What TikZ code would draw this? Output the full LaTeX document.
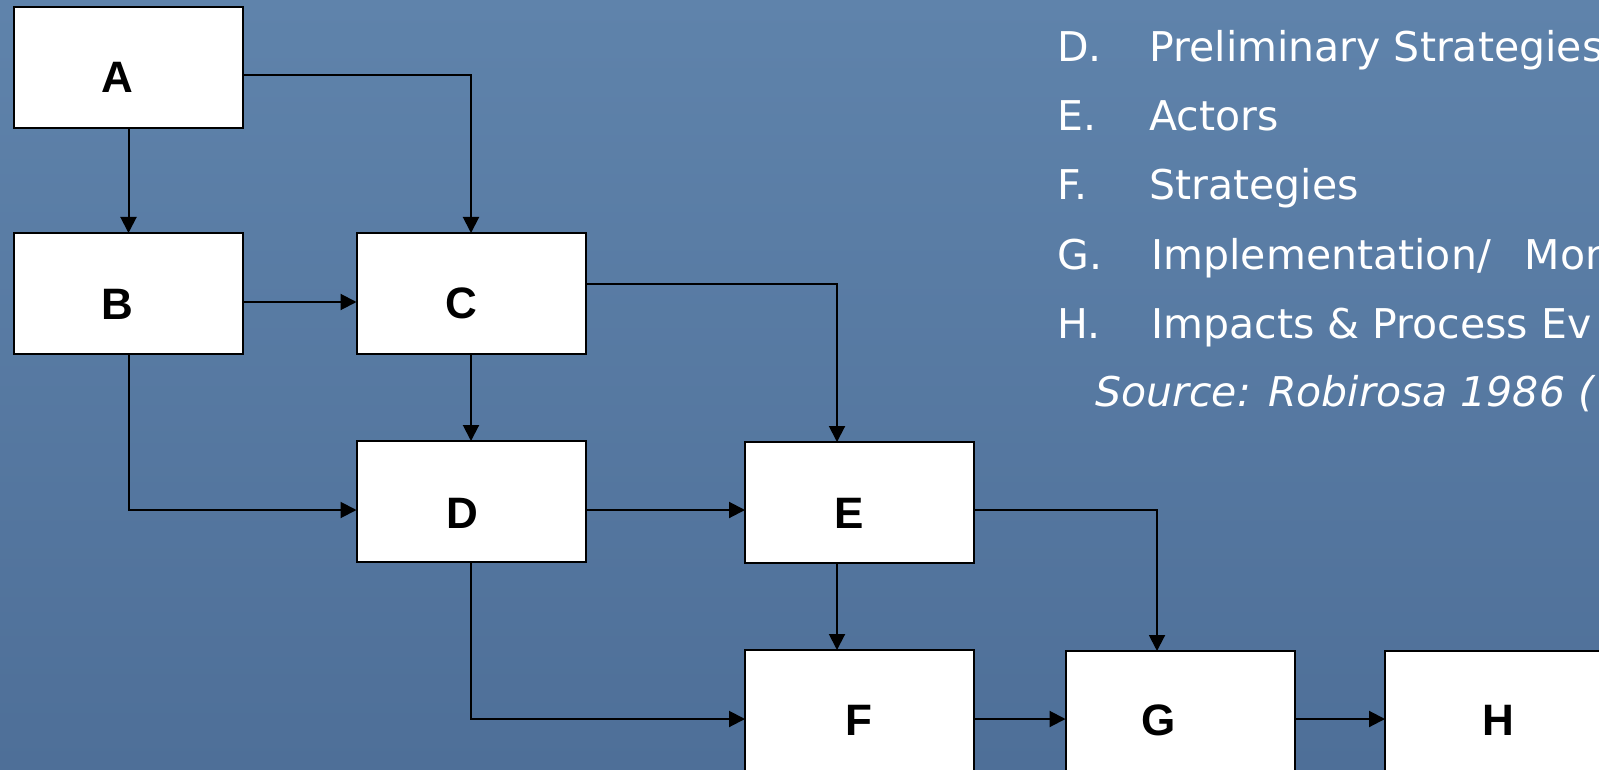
\documentclass[tikz,border=0pt]{standalone}
\usepackage{fontspec}
\setmainfont{DejaVu Sans}
\newfontfamily\boxfont{Liberation Sans}
\usetikzlibrary{arrows.meta}
\definecolor{bgtop}{HTML}{5F83AB}
\definecolor{bgbot}{HTML}{4E6F98}
\begin{document}
\begin{tikzpicture}[x=0.5pt,y=-0.5pt,
  box/.style={draw=black,fill=white,line width=1pt,minimum width=114.5pt,minimum height=60.5pt,inner sep=0pt,outer sep=0pt},
  lbl/.style={font=\boxfont\bfseries\fontsize{22}{22}\selectfont,text=black,inner sep=0pt},
  conn/.style={line width=1pt,-{Triangle[length=8pt,width=8pt]}},
  itemtxt/.style={anchor=base west,inner sep=0pt,text=white,font=\fontsize{20.5}{24}\selectfont},
  srctxt/.style={anchor=base west,inner sep=0pt,text=white,font=\itshape\fontsize{20.5}{24}\selectfont}
  ]
\useasboundingbox (0,0) rectangle (1599,770);
\clip (0,0) rectangle (1599,770);
\shade[top color=bgtop,bottom color=bgbot] (0,0) rectangle (1599,770);

% boxes
\node[box] (A) at (128.5,67.5) {};
\node[box] (B) at (128.5,293.5) {};
\node[box] (C) at (471,293.5) {};
\node[box] (D) at (471,501.5) {};
\node[box] (E) at (859.5,502.5) {};
\node[box] (F) at (859.5,710.5) {};
\node[box] (G) at (1180,711.5) {};
\node[box] (H) at (1499.5,711.5) {};

% box labels
\node[lbl] (tA) at (117,77) {A};
\node[lbl] (tB) at (117.5,304) {B};
\node[lbl] (tC) at (461,303) {C};
\node[lbl] (tD) at (462,513) {D};
\node[lbl] (tE) at (849,513) {E};
\node[lbl] (tF) at (859,720) {F};
\node[lbl] (tG) at (1159,720) {G};
\node[lbl] (tH) at (1498,720) {H};

% connectors
\draw[conn] (A.south) -- (B.north);
\draw[conn] ([yshift=-3.75pt]A.east) -| (C.north);
\draw[conn] ([yshift=-4.25pt]B.east) -- ([yshift=-4.25pt]C.west);
\draw[conn] (C.south) -- (D.north);
\draw[conn] ([yshift=4.75pt]C.east) -| ([xshift=-11.25pt]E.north);
\draw[conn] (B.south) |- ([yshift=-4.25pt]D.west);
\draw[conn] ([yshift=-4.25pt]D.east) -- ([yshift=-4.25pt]D.east -| E.west);
\draw[conn] (D.south) |- ([yshift=-4.25pt]F.west);
\draw[conn] ([xshift=-11.25pt]E.south) -- ([xshift=-11.25pt]E.south |- F.north);
\draw[conn] ([yshift=-3.75pt]E.east) -| ([xshift=-11.5pt]G.north);
\draw[conn] ([yshift=-4.25pt]F.east) -- ([yshift=-4.25pt]F.east -| G.west);
\draw[conn] ([yshift=-3.75pt]G.east) -- ([yshift=-3.75pt]G.east -| H.west);

% list text
\node[itemtxt] (lD) at (1057,62) {D.};
\node[itemtxt] (xD) at (1149,62) {Preliminary Strategies};
\node[itemtxt] (lE) at (1057,131) {E.};
\node[itemtxt] (xE) at (1149,131) {Actors};
\node[itemtxt] (lF) at (1057,200) {F.};
\node[itemtxt] (xF) at (1149,200) {Strategies};
\node[itemtxt] (lG) at (1057,269) {G.};
\node[itemtxt] (xG) at (1151,269) {Implementation/\hspace{10.5pt} Mon};
\node[itemtxt] (lH) at (1057,338) {H.};
\node[itemtxt] (xH) at (1151,338) {Impacts \& Process Ev};
\node[srctxt] (src) at (1095,406) {Source: Robirosa 1986 (};
\end{tikzpicture}
\end{document}
